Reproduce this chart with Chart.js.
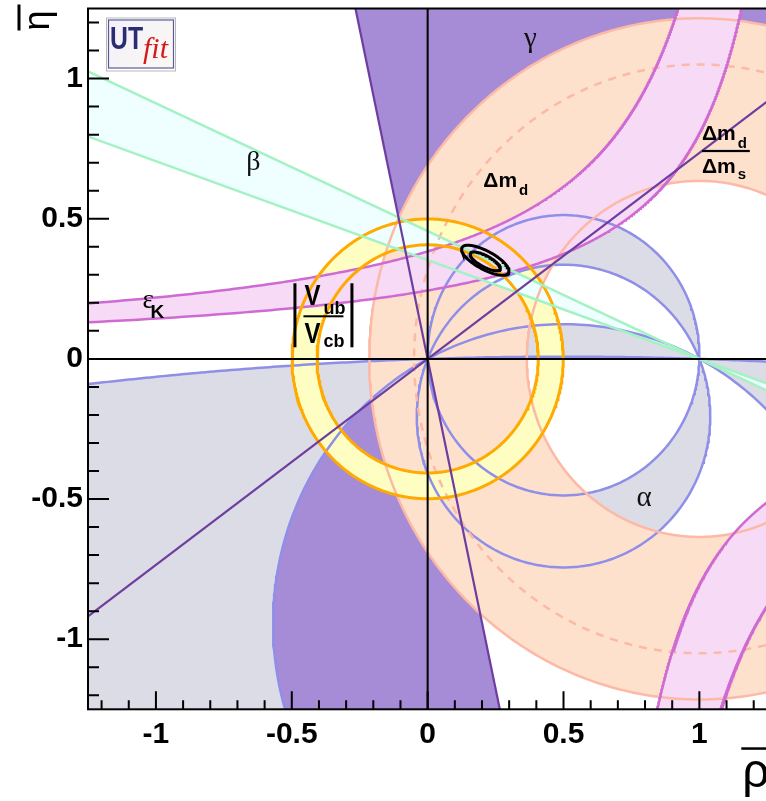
<!DOCTYPE html>
<html>
<head>
<meta charset="utf-8">
<title>UTfit rho-eta plane</title>
<script src="https://cdn.jsdelivr.net/npm/chart.js@4.4.1/dist/chart.umd.min.js"></script>
<style>
  html, body { margin: 0; padding: 0; background: #fff; overflow: hidden; }
  canvas { display: block; }
</style>
</head>
<body>
<canvas id="ut" width="770" height="801"></canvas>
<script>
// axis range and ticks (rho-bar, eta-bar)
const axisMin = -1.25, axisMax = 1.25;
const xTicks = [-1, -0.5, 0, 0.5, 1];
const yTicks = [-1, -0.5, 0, 0.5, 1];

// gamma: wedge edges seen from the origin, degrees
const gammaEdges = [36.3, 102];
// beta: slopes of the two lines through (1,0)
const betaSlopes = [-0.456, -0.3526];
// alpha: circles through (0,0) and (1,0) as [cx, cy, r]; each pair bounds a band
const alphaBand1 = [[0.5, 0.013, 0.500], [0.5, -0.204, 0.540]];
const alphaBand2 = [[0.5, -0.945, 1.069], [0.5, -15.67, 15.678]];
// Delta m_d, Delta m_d / Delta m_s: rings around (1,0)
const dmCentre = [1, 0];
const dmRadii = [0.635, 1.215];
const dmDashed = 1.05;
// |Vub/Vcb|: ring around the origin
const vubRadii = [0.407, 0.499];
// epsilon_K: eta = a / (b - rho) as [a, b]; second band mirrored through (1,0)
const epsK = [[0.51, 1.33], [0.35, 1.435]];
const epsKMirror = [1, 0];
// fit result contours [cx, cy, semi-major, semi-minor, angle]
const contours = [[0.212, 0.352, 0.097, 0.033, -27.5], [0.212, 0.348, 0.062, 0.020, -27.5]];

const col = {
  gamma: '#a68bd7', gammaLine: '#6d3d9f',
  alpha: '#dcdce6', alphaLine: '#8f8fe8',
  dm: '#fde1cc', dmLine: '#fcb9a6',
  vub: '#fefec2', vubLine: '#ffaa00',
  eps: '#f6daf6', epsLine: '#d06ad3',
  beta: '#effefe', betaLine: '#a4f2c4'
};
const SANS = '"Liberation Sans", Arial, Helvetica, sans-serif';
const SERIF = '"Liberation Serif", "Times New Roman", serif';

function circlePts(c) {
  const [cx, cy, r] = c;
  const n = Math.max(360, Math.ceil(r * 400));
  const pts = [];
  for (let i = 0; i <= n; i++) {
    const t = 2 * Math.PI * i / n;
    pts.push({x: cx + r * Math.cos(t), y: cy + r * Math.sin(t)});
  }
  return pts;
}
function hyperPts(k, mirror) {
  const [a, b] = k;
  const pts = [];
  for (let e = a / (b + 1.3); e < 1.45; e += 0.002) {
    const rho = b - a / e;
    pts.push(mirror ? {x: 2 * epsKMirror[0] - rho, y: 2 * epsKMirror[1] - e} : {x: rho, y: e});
  }
  return pts;
}
function linePts(x0, y0, dx, dy) {
  return [{x: x0 - 5 * dx, y: y0 - 5 * dy}, {x: x0 + 5 * dx, y: y0 + 5 * dy}];
}
function ellipsePts(c) {
  const [cx, cy, a, b, ang] = c;
  const th = ang * Math.PI / 180, pts = [];
  for (let i = 0; i <= 120; i++) {
    const t = 2 * Math.PI * i / 120;
    const u = a * Math.cos(t), v = b * Math.sin(t);
    pts.push({x: cx + u * Math.cos(th) - v * Math.sin(th), y: cy + u * Math.sin(th) + v * Math.cos(th)});
  }
  return pts;
}
function lineSet(pts, color, width, dash) {
  return {data: pts, showLine: true, borderColor: color, borderWidth: width,
          borderDash: dash || [], pointRadius: 0, fill: false, tension: 0};
}

// outlines, first one ends up on top
const sets = [];
contours.forEach(c => sets.push(lineSet(ellipsePts(c), '#000', 3)));
gammaEdges.forEach(d => {
  const t = d * Math.PI / 180;
  sets.push(lineSet(linePts(0, 0, Math.cos(t), Math.sin(t)), col.gammaLine, 2.2));
});
betaSlopes.forEach(s => sets.push(lineSet(linePts(1, 0, 1, s), col.betaLine, 2.5)));
vubRadii.forEach(r => sets.push(lineSet(circlePts([0, 0, r]), col.vubLine, 3)));
epsK.forEach(k => {
  sets.push(lineSet(hyperPts(k, false), col.epsLine, 2.5));
  sets.push(lineSet(hyperPts(k, true), col.epsLine, 2.5));
});
dmRadii.forEach(r => sets.push(lineSet(circlePts([dmCentre[0], dmCentre[1], r]), col.dmLine, 2.5)));
sets.push(lineSet(circlePts([dmCentre[0], dmCentre[1], dmDashed]), col.dmLine, 2.5, [8, 7]));
alphaBand1.concat(alphaBand2).forEach(c => sets.push(lineSet(circlePts(c), col.alphaLine, 2.5)));

const fills = {
  id: 'utFills',
  beforeDatasetsDraw(chart) {
    const {ctx, chartArea: a, scales: {x, y}} = chart;
    const trace = pts => {
      pts.forEach((p, i) => {
        const px = x.getPixelForValue(p.x), py = y.getPixelForValue(p.y);
        if (i) ctx.lineTo(px, py); else ctx.moveTo(px, py);
      });
      ctx.closePath();
    };
    const fillShapes = (shapes, color) => {
      ctx.beginPath();
      shapes.forEach(trace);
      ctx.fillStyle = color;
      ctx.fill('evenodd');
    };
    const far = d => ({x: 4 * Math.cos(d * Math.PI / 180), y: 4 * Math.sin(d * Math.PI / 180)});
    const o = {x: 0, y: 0}, b1 = {x: 1, y: 0};
    const [g0, g1] = gammaEdges;
    ctx.save();
    ctx.beginPath();
    ctx.rect(a.left, a.top, a.right - a.left, a.bottom - a.top);
    ctx.clip();
    fillShapes([[o, far(g0), far(g1)], [o, far(g0 + 180), far(g1 + 180)]], col.gamma);
    fillShapes(alphaBand1.map(circlePts), col.alpha);
    fillShapes(alphaBand2.map(circlePts), col.alpha);
    fillShapes(dmRadii.map(r => circlePts([dmCentre[0], dmCentre[1], r])), col.dm);
    fillShapes(vubRadii.map(r => circlePts([0, 0, r])), col.vub);
    fillShapes([
      [b1, {x: -4, y: -5 * betaSlopes[0]}, {x: -4, y: -5 * betaSlopes[1]}],
      [b1, {x: 6, y: 5 * betaSlopes[0]}, {x: 6, y: 5 * betaSlopes[1]}]
    ], col.beta);
    [false, true].forEach(m => {
      const up = hyperPts(epsK[0], m), lo = hyperPts(epsK[1], m).reverse();
      fillShapes([up.concat(lo)], col.eps);
    });
    ctx.restore();
  }
};

const decor = {
  id: 'utDecor',
  afterDatasetsDraw(chart) {
    const {ctx, chartArea: a, scales: {x, y}} = chart;
    const X = v => x.getPixelForValue(v), Y = v => y.getPixelForValue(v);
    const text = (s, px, py, font, align) => {
      ctx.font = font;
      ctx.textAlign = align || 'left';
      ctx.textBaseline = 'alphabetic';
      ctx.fillText(s, px, py);
      return ctx.measureText(s).width;
    };
    ctx.save();
    ctx.strokeStyle = '#000';
    ctx.fillStyle = '#000';
    ctx.lineWidth = 2;
    ctx.beginPath();
    ctx.moveTo(X(0), a.top); ctx.lineTo(X(0), a.bottom);
    ctx.moveTo(a.left, Y(0)); ctx.lineTo(a.right, Y(0));
    ctx.stroke();
    ctx.strokeRect(a.left, a.top, a.right - a.left, a.bottom - a.top);
    ctx.beginPath();
    for (let i = -12; i <= 12; i++) {
      const major = i % 5 === 0;
      ctx.moveTo(X(i / 10), a.bottom); ctx.lineTo(X(i / 10), a.bottom - (major ? 18 : 9));
      ctx.moveTo(a.left, Y(i / 10)); ctx.lineTo(a.left + (major ? 21 : 11), Y(i / 10));
    }
    ctx.stroke();

    // greek labels
    ctx.fillStyle = '#111';
    text('\u03b3', X(0.378), Y(1.1125), '29px ' + SERIF, 'center');
    text('\u03b2', X(-0.641), Y(0.673), '28px ' + SERIF, 'center');
    text('\u03b1', X(0.797), Y(-0.523), '29px ' + SERIF, 'center');
    ctx.fillStyle = '#000';

    // Delta m_d
    let px = X(0.205), py = Y(0.6125);
    let w = text('\u0394m', px, py, 'bold 21px ' + SANS);
    text('d', px + w + 2, py + 8, 'bold 15px ' + SANS);

    // Delta m_d / Delta m_s
    const cx = X(1.094), by = Y(0.742);
    ctx.font = 'bold 21px ' + SANS;
    w = ctx.measureText('\u0394m').width;
    const left = cx - (w + 12) / 2;
    text('\u0394m', left, by - 11, 'bold 21px ' + SANS);
    text('d', left + w + 2, by - 3, 'bold 15px ' + SANS);
    text('\u0394m', left, by + 22, 'bold 21px ' + SANS);
    text('s', left + w + 2, by + 28, 'bold 15px ' + SANS);
    ctx.fillRect(left, by - 1, w + 14, 2.2);

    // epsilon_K
    px = X(-1.049); py = Y(0.1804);
    text('\u03b5', px, py, '27px ' + SERIF);
    text('K', px + 8, py + 10, 'bold 19px ' + SANS);

    // |Vub / Vcb|
    px = X(-0.3835); py = Y(0.152);
    ctx.save();
    ctx.translate(px - 19, py - 11); ctx.scale(0.8, 1);
    text('V', 0, 0, 'bold 30px ' + SANS);
    ctx.restore();
    ctx.save();
    ctx.translate(px - 19, py + 27); ctx.scale(0.8, 1);
    text('V', 0, 0, 'bold 30px ' + SANS);
    ctx.restore();
    text('ub', px, py - 2, 'bold 18px ' + SANS);
    text('cb', px, py + 31, 'bold 18px ' + SANS);
    ctx.fillRect(px - 20, py - 1, 40, 2);
    ctx.fillRect(px - 30, py - 33, 3, 64);
    ctx.fillRect(px + 27, py - 33, 3, 64);

    // UTfit badge
    const lx = a.left + 18, ly = a.top + 9;
    ctx.fillStyle = '#ffffff';
    ctx.fillRect(lx, ly, 70, 54);
    ctx.strokeStyle = '#b8b8b8'; ctx.lineWidth = 1;
    ctx.strokeRect(lx + 0.5, ly + 0.5, 69, 53);
    const g = ctx.createLinearGradient(lx, ly, lx + 66, ly + 50);
    g.addColorStop(0, '#f3f0fb'); g.addColorStop(1, '#fbf8f2');
    ctx.fillStyle = g;
    ctx.fillRect(lx + 3, ly + 3, 64, 47);
    ctx.strokeStyle = '#5a5a98'; ctx.lineWidth = 1.2;
    ctx.strokeRect(lx + 2.5, ly + 2.5, 65, 48);
    ctx.save();
    ctx.translate(lx + 4, ly + 31); ctx.scale(0.8, 1);
    ctx.fillStyle = '#2b2d72';
    text('UT', 0, 0, 'bold 31px ' + SANS);
    ctx.restore();
    ctx.fillStyle = '#d41a1a';
    text('fit', lx + 37, ly + 40, 'italic 30px ' + SERIF);

    // axis titles
    ctx.fillStyle = '#000';
    text('\u03c1', a.right - 25, a.bottom + 78, '48px ' + SANS);
    ctx.fillRect(a.right - 26, a.bottom + 38, 26, 2.5);
    ctx.save();
    ctx.translate(49, a.top + 2); ctx.rotate(-Math.PI / 2);
    text('\u03b7', 0, 0, '36px ' + SANS, 'right');
    ctx.restore();
    ctx.fillRect(17.5, a.top - 4, 3, 26);
    ctx.restore();
  }
};

const tickFont = {family: SANS, size: 30, weight: 'bold'};
new Chart(document.getElementById('ut'), {
  type: 'scatter',
  data: {datasets: sets},
  options: {
    responsive: false,
    animation: false,
    devicePixelRatio: 1,
    events: [],
    layout: {padding: {top: 8.5, right: 2.7, left: 0, bottom: 0}},
    plugins: {legend: {display: false}, tooltip: {enabled: false}},
    scales: {
      x: {
        type: 'linear', min: axisMin, max: axisMax,
        afterBuildTicks: s => { s.ticks = xTicks.map(v => ({value: v})); },
        afterFit: s => { s.height = 91.7; s.paddingLeft = 0; s.paddingRight = 0; },
        grid: {display: false, drawTicks: false},
        border: {display: false},
        ticks: {font: tickFont, color: '#000', padding: 7, autoSkip: false, maxRotation: 0,
                callback: v => String(v)}
      },
      y: {
        type: 'linear', min: axisMin, max: axisMax,
        afterBuildTicks: s => { s.ticks = yTicks.map(v => ({value: v})); },
        afterFit: s => { s.width = 88; s.paddingTop = 0; s.paddingBottom = 0; },
        grid: {display: false, drawTicks: false},
        border: {display: false},
        ticks: {font: tickFont, color: '#000', padding: 5, autoSkip: false,
                callback: v => String(v)}
      }
    }
  },
  plugins: [fills, decor]
});
</script>
</body>
</html>
